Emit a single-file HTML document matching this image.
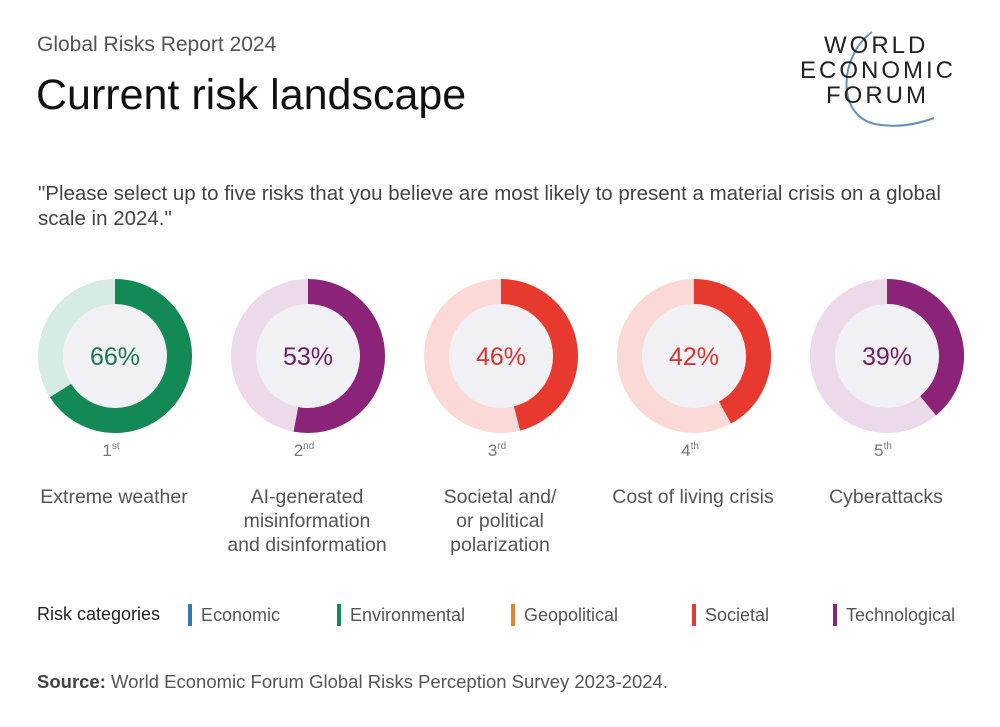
<!DOCTYPE html>
<html><head><meta charset="utf-8"><style>
body{margin:0;width:1000px;height:727px;background:#fff;font-family:"Liberation Sans",sans-serif;position:relative;overflow:hidden}
.a{position:absolute;white-space:nowrap}
</style></head><body>
<div class="a" style="left:37px;top:33px;font-size:21px;color:#555">Global Risks Report 2024</div>
<div class="a" style="left:36px;top:71px;font-size:43px;color:#111">Current risk landscape</div>
<div class="a" style="left:800px;top:30px;width:170px;height:105px">
<svg width="170" height="105" style="position:absolute;left:0;top:0"><path d="M 72 2 C 40 25, 35 85, 75 94 C 95 98, 115 95, 134 88" fill="none" stroke="#5f93bb" stroke-width="2"/></svg>
<div class="a" style="left:24px;top:2px;font-size:24px;letter-spacing:3px;color:#222">WORLD</div>
<div class="a" style="left:0px;top:27px;font-size:24px;letter-spacing:3px;color:#222">ECONOMIC</div>
<div class="a" style="left:26px;top:52px;font-size:24px;letter-spacing:3px;color:#222">FORUM</div>
</div>
<div class="a" style="left:38px;top:181px;font-size:20.5px;color:#444;line-height:25px">"Please select up to five risks that you believe are most likely to present a material crisis on a global<br>scale in 2024."</div>
<svg id="ch" class="a" style="left:0;top:260px" width="1000" height="320"></svg>
<div class="a" style="left:37px;top:604px;font-size:18px;color:#222">Risk categories</div>
<div id="leg"></div>
<div class="a" style="left:37px;top:671px;font-size:18.5px;color:#555"><b style="color:#444">Source:</b> World Economic Forum Global Risks Perception Survey 2023-2024.</div>
<script>
const labels=["Extreme weather","AI-generated\nmisinformation\nand disinformation","Societal and/\nor political\npolarization","Cost of living crisis","Cyberattacks"];
const values=[66,53,46,42,39];
const ranks=["1","2","3","4","5"];
const sups=["st","nd","rd","th","th"];
const catOf=["env","tech","soc","soc","tech"];
const colors={env:["#138a55","#d6ebe1","#1a7a4f"],tech:["#8b2379","#ecd9e9","#6e1f60"],soc:["#e8392f","#fbd9d7","#d8352c"]};
const legendNames=["Economic","Environmental","Geopolitical","Societal","Technological"];
const legendColors=["#2b7bb9","#138a55","#e2822f","#e8392f","#8b2379"];
const ns="http://www.w3.org/2000/svg";
const svg=document.getElementById('ch');
const cx0=115,dx=193,cy=96,R=77,r=52,rm=(R+r)/2,w=R-r;
function ang(v){return v/100*2*Math.PI;}
values.forEach((v,i)=>{
 const cx=cx0+i*dx,c=colors[catOf[i]];
 const bg=document.createElementNS(ns,'circle');
 bg.setAttribute('cx',cx);bg.setAttribute('cy',cy);bg.setAttribute('r',rm);bg.setAttribute('fill','#f1f0f4');bg.setAttribute('stroke',c[1]);bg.setAttribute('stroke-width',w);
 
 
 svg.appendChild(bg);
 const a=ang(v),x=cx+rm*Math.sin(a),y=cy-rm*Math.cos(a);
 const p=document.createElementNS(ns,'path');
 p.setAttribute('d',`M ${cx} ${cy-rm} A ${rm} ${rm} 0 ${v>50?1:0} 1 ${x} ${y}`);
 p.setAttribute('fill','none');p.setAttribute('stroke',c[0]);p.setAttribute('stroke-width',w);
 
 
 svg.appendChild(p);
 const t=document.createElementNS(ns,'text');
 t.setAttribute('x',cx);t.setAttribute('y',cy+9);t.setAttribute('text-anchor','middle');t.setAttribute('font-size','25');t.setAttribute('fill',c[2]);
 t.textContent=v+'%';
 
 
 svg.appendChild(t);
 const rk=document.createElementNS(ns,'text');
 rk.setAttribute('x',cx-4);rk.setAttribute('y',cy+100);rk.setAttribute('text-anchor','middle');rk.setAttribute('font-size','17');rk.setAttribute('fill','#777');
 rk.innerHTML=ranks[i]+'<tspan font-size="10" dy="-7">'+sups[i]+'</tspan>';
 
 
 svg.appendChild(rk);
 labels[i].split('\n').forEach((ln,j)=>{
  const l=document.createElementNS(ns,'text');
  l.setAttribute('x',cx-1);l.setAttribute('y',243+j*24);l.setAttribute('text-anchor','middle');l.setAttribute('font-size','19.5');l.setAttribute('fill','#555');
  l.textContent=ln;
  
  
  svg.appendChild(l);
 });
});
const leg=document.getElementById('leg');
const lx=[188,337,511,692,833];
legendNames.forEach((n,i)=>{
 const d=document.createElement('div');
 d.className='a';
 d.style.cssText=`left:${lx[i]}px;top:604px;font-size:18px;color:#555;border-left:4px solid ${legendColors[i]};padding-left:9px;line-height:22px`;
 d.textContent=n;
 
 
 leg.appendChild(d);
});
</script>
</body></html>
